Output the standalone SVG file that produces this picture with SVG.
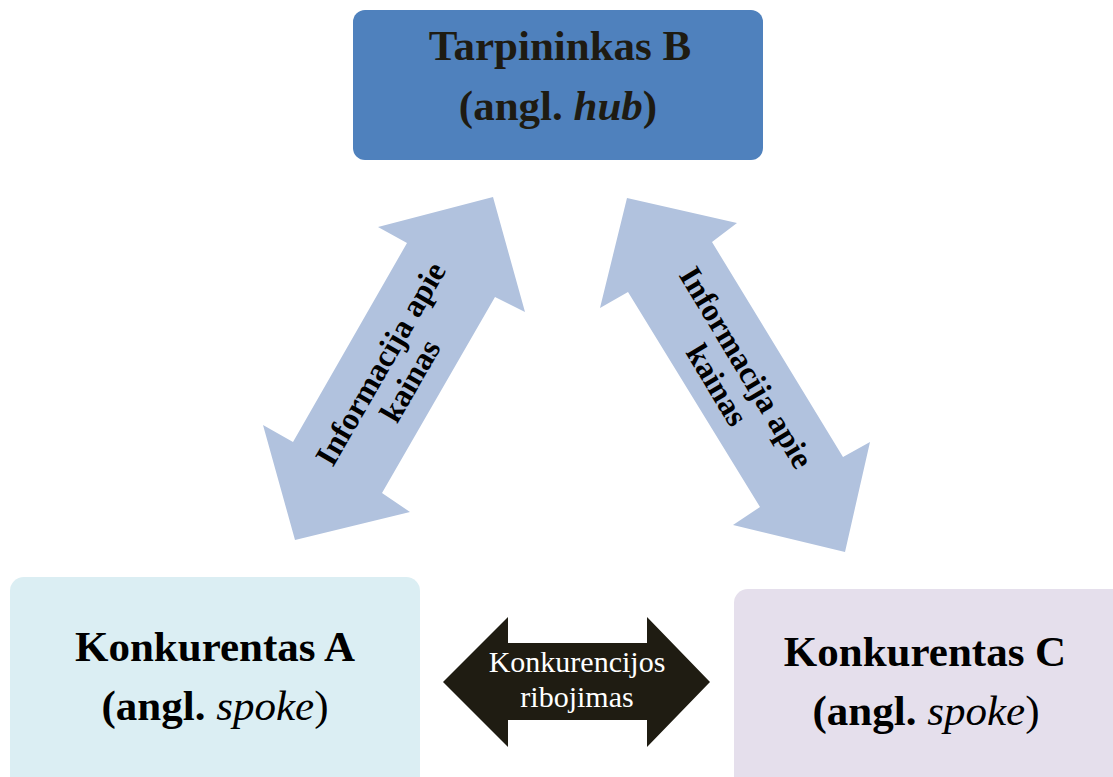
<svg xmlns="http://www.w3.org/2000/svg" width="1113" height="777" viewBox="0 0 1113 777" font-family="'Liberation Serif', 'Times New Roman', serif">
<style>
text{font-family:'Liberation Serif','Times New Roman',serif;}
.b{font-weight:bold;}
.i{font-style:italic;}
.big{font-size:43px;text-anchor:middle;}
.lbl{font-size:32px;font-weight:bold;text-anchor:middle;fill:#000;}
.blue{fill:#b1c2de;}
</style>
<rect width="1113" height="777" fill="#fff"/>
<g id="connectors">
  <polygon class="blue" points="493,197 525,312 495,297 382,493 410,512 295,540 263,425 293,442 407,243 378,227"/>
  <polygon class="blue" points="627,198 737,223 712,242 843,457 870,442 845,552 733,525 760,507 628,292 600,308"/>
  <polygon fill="#1f1c12" points="443,682 508,617 508,643 647,643 647,617 710,682 647,747 647,720 508,720 508,747"/>
  <g transform="translate(395,372) rotate(-60)">
    <text class="lbl" x="0" y="-6">Informacija apie</text>
    <text class="lbl" x="0" y="28">kainas</text>
  </g>
  <g transform="translate(732,376) rotate(59)">
    <text class="lbl" x="0" y="-6">Informacija apie</text>
    <text class="lbl" x="0" y="28">kainas</text>
  </g>
  <text x="577" y="672" font-size="30" fill="#fff" text-anchor="middle">Konkurencijos</text>
  <text x="577" y="707" font-size="30" fill="#fff" text-anchor="middle">ribojimas</text>
</g>
<g id="hub">
  <rect x="353" y="10" width="410" height="150" rx="12" fill="#4f81bd"/>
  <text class="b big" x="560" y="60" fill="#1e1b12">Tarpininkas B</text>
  <text class="b big" x="558" y="120" fill="#1e1b12">(angl. <tspan class="i">hub</tspan>)</text>
</g>
<g id="spokeA">
  <rect x="10" y="577" width="410" height="230" rx="14" fill="#dbeef3"/>
  <text class="b big" x="215" y="661">Konkurentas A</text>
  <text class="big" x="215" y="720"><tspan class="b">(angl.</tspan> <tspan class="i">spoke</tspan>)</text>
</g>
<g id="spokeC">
  <rect x="734" y="589" width="410" height="230" rx="14" fill="#e5dfec"/>
  <text class="b big" x="925" y="666">Konkurentas C</text>
  <text class="big" x="926" y="725"><tspan class="b">(angl.</tspan> <tspan class="i">spoke</tspan>)</text>
</g>
</svg>
